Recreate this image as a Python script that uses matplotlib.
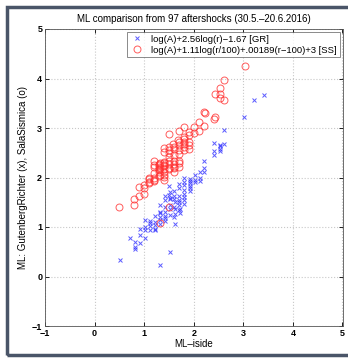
import matplotlib
matplotlib.use("Agg")
from matplotlib import pyplot as plt
from matplotlib.patches import Rectangle

# ML-iside vs. SalaSismica (red circles)
ss_x = [0.49, 0.80, 0.80, 0.90, 0.90, 1.00, 1.00, 1.10, 1.10, 1.19, 1.20, 1.20,
        1.20, 1.29, 1.29, 1.29, 1.31, 1.31, 1.39, 1.39, 1.39, 1.39, 1.41, 1.41,
        1.51, 1.51, 1.51, 1.51, 1.51, 1.59, 1.60, 1.60, 1.60, 1.61, 1.60, 1.69,
        1.70, 1.70, 1.70, 1.70, 1.70, 1.71, 1.80, 1.80, 1.80, 1.80, 1.80, 1.90,
        1.90, 1.90, 1.90, 2.00, 2.11, 2.11, 2.20, 2.20, 2.22, 2.41, 2.42, 2.42,
        2.52, 2.52, 2.52, 2.62, 2.62, 3.03, 1.51, 1.31, 1.40, 1.50, 1.30, 1.20,
        1.29, 1.39, 1.60, 1.70, 1.80, 1.31, 1.41, 1.51, 1.61, 1.20, 1.10, 1.29,
        1.39, 1.70, 1.80, 1.51, 1.60, 1.90, 2.00, 1.00, 1.10, 1.20, 1.29, 1.39,
        1.51]
ss_y = [1.41, 1.45, 1.57, 1.62, 1.80, 1.67, 1.84, 1.96, 1.90, 1.95, 2.00, 1.93,
        2.33, 2.21, 2.11, 2.27, 2.29, 2.05, 2.26, 2.18, 2.12, 1.94, 2.60, 2.51,
        2.88, 2.50, 2.34, 2.18, 2.27, 2.68, 2.57, 2.34, 2.21, 2.11, 2.45, 2.75,
        2.65, 2.48, 2.34, 2.22, 2.72, 2.94, 3.02, 2.82, 2.78, 2.68, 2.55, 2.92,
        2.72, 2.58, 2.85, 3.03, 2.93, 3.12, 3.05, 3.32, 3.30, 3.18, 3.22, 3.68,
        3.80, 3.68, 3.61, 3.57, 3.96, 4.25, 1.40, 1.09, 2.02, 2.42, 2.15, 2.22,
        2.25, 2.24, 2.28, 2.30, 2.62, 2.20, 2.30, 2.56, 2.20, 2.26, 1.98, 2.04,
        2.06, 2.55, 2.72, 2.20, 2.62, 2.65, 2.90, 1.78, 1.88, 2.10, 2.17, 2.32,
        2.62]

# ML-iside vs. GutenbergRichter (blue crosses)
gr_x = [0.52, 1.32, 1.53, 0.82, 0.82, 0.92, 0.92, 1.02, 1.02, 1.12, 1.12, 1.22,
        1.22, 1.02, 1.22, 1.22, 1.32, 1.32, 1.32, 1.42, 1.42, 1.42, 1.42, 1.42,
        1.52, 1.52, 1.52, 1.51, 1.51, 1.63, 1.63, 1.63, 1.61, 1.61, 1.61, 1.73,
        1.73, 1.71, 1.71, 1.71, 1.71, 1.71, 1.81, 1.81, 1.81, 1.81, 1.81, 1.81,
        1.92, 1.92, 1.92, 1.92, 2.02, 2.12, 2.12, 2.21, 2.21, 2.40, 2.40, 2.52,
        2.52, 2.52, 2.62, 2.62, 3.01, 3.21, 3.42, 0.72, 0.82, 0.92, 1.02, 1.12,
        1.22, 1.32, 1.32, 1.42, 1.52, 1.52, 1.63, 1.61, 1.71, 1.81, 1.92, 2.02,
        2.12, 2.21, 2.40, 2.52, 1.12, 1.32, 1.42, 1.52, 1.61, 1.71, 1.81, 1.92,
        2.02]
gr_y = [0.34, 0.24, 0.50, 0.56, 0.60, 0.68, 0.84, 0.77, 0.93, 0.93, 1.03, 0.94,
        0.96, 1.15, 1.23, 1.10, 1.20, 1.14, 1.07, 1.13, 1.23, 1.30, 1.40, 1.55,
        1.37, 1.45, 1.25, 1.64, 1.82, 1.06, 1.27, 1.37, 1.57, 1.40, 1.62, 1.28,
        1.37, 1.44, 1.34, 1.87, 1.78, 1.55, 1.47, 1.99, 1.90, 1.75, 1.66, 1.60,
        1.97, 1.93, 1.83, 1.72, 2.05, 2.12, 1.93, 2.12, 2.33, 2.46, 2.69, 2.65,
        2.53, 2.63, 2.67, 2.95, 3.22, 3.56, 3.66, 0.78, 0.70, 0.95, 1.00, 1.08,
        1.05, 1.30, 1.45, 1.18, 1.58, 1.70, 1.50, 1.20, 1.62, 1.85, 1.78, 1.90,
        2.00, 2.20, 2.54, 2.58, 1.12, 1.28, 1.62, 1.56, 1.72, 1.50, 1.55, 1.88,
        1.95]

labels = ["log(A)+2.56log(r)\u22121.67 [GR]",
          "log(A)+1.11log(r/100)+.00189(r\u2212100)+3 [SS]"]
ticks = [-1, 0, 1, 2, 3, 4, 5]

plt.rcParams['font.family'] = ['Liberation Sans', 'DejaVu Sans']
plt.rcParams['axes.unicode_minus'] = True

fig = plt.figure(figsize=(3.48, 3.60), dpi=100)
fig.patches.append(Rectangle((7 / 348, 5 / 360), 1.2, 348 / 360, transform=fig.transFigure,
                             fill=False, edgecolor='#4a5568', linewidth=2.5))
ax = fig.add_axes([45 / 348, 34 / 360, 297.5 / 348, 297 / 360])

ax.plot(gr_x, gr_y, 'x', color='#3333ff', markersize=3, markeredgewidth=0.7,
        alpha=0.8, label=labels[0])
ax.plot(ss_x, ss_y, 'o', mfc='none', mec='#ff3333', markersize=5, markeredgewidth=0.7,
        alpha=0.8, label=labels[1])

ax.set_xlim(-1, 5)
ax.set_ylim(-1, 5)
ax.set_xticks(ticks)
ax.set_yticks(ticks)
ax.tick_params(direction='in', length=3, width=0.6, labelsize=6.5, top=True, right=True, pad=2)
for lab in ax.get_xticklabels() + ax.get_yticklabels():
    lab.set_fontweight('bold')
ax.grid(True, linestyle=':', color='#c8c8c8', linewidth=0.8)
for s in ax.spines.values():
    s.set_linewidth(0.6)
    s.set_color('#555555')

ax.set_title("ML comparison from 97 aftershocks (30.5.\u201320.6.2016)", fontsize=7, pad=5)
ax.set_xlabel("ML\u2013iside", fontsize=7, labelpad=1)
ax.set_ylabel("ML: GutenbergRichter (x), SalaSismica (o)", fontsize=7, labelpad=3)

leg = ax.legend(loc='upper right', fontsize=6.8, frameon=True, fancybox=False,
                borderpad=0.3, handletextpad=0.8, labelspacing=0.2, borderaxespad=0.3,
                handlelength=1.5)
leg.get_frame().set_edgecolor('#555555')
leg.get_frame().set_linewidth(0.6)

fig.savefig("out.png", dpi=100)
